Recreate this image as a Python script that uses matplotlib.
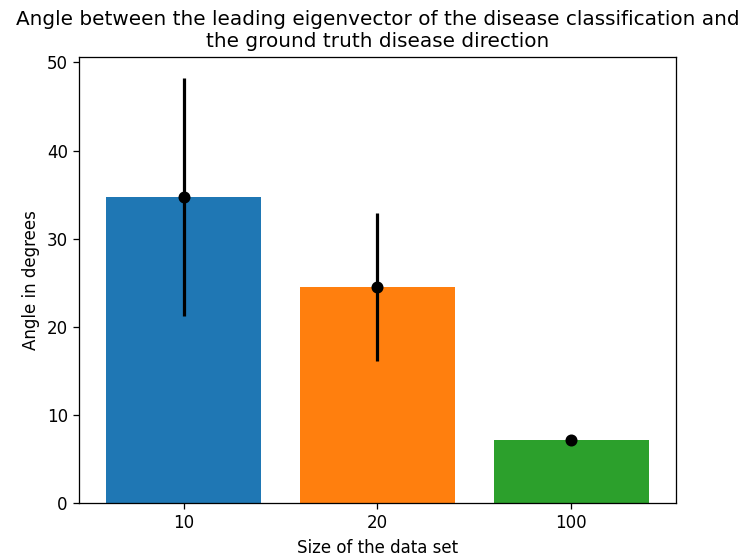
import matplotlib
matplotlib.use("Agg")
import matplotlib.pyplot as plt
import numpy as np

sizes = ["10", "20", "100"]
mean_angle = [34.7, 24.5, 7.15]
std_angle = [13.5, 8.4, 0.1]
colors = ["#1f77b4", "#ff7f0e", "#2ca02c"]

plt.rcParams["font.size"] = 10.4

fig = plt.figure(figsize=(738 / 115.3, 556 / 115.3), dpi=115.3)
ax = fig.add_axes([0.107, 0.095, 0.809, 0.8025])

x = np.arange(len(sizes))
ax.bar(x, mean_angle, color=colors)
ax.errorbar(x, mean_angle, yerr=std_angle, fmt="o", color="black",
            elinewidth=2, markersize=6.5)
ax.set_xticks(x)
ax.set_xticklabels(sizes)
ax.set_xlabel("Size of the data set")
ax.set_ylabel("Angle in degrees")
ax.set_title("Angle between the leading eigenvector of the disease classification and\n"
             "the ground truth disease direction")

fig.savefig("out.png", dpi=115.3)
